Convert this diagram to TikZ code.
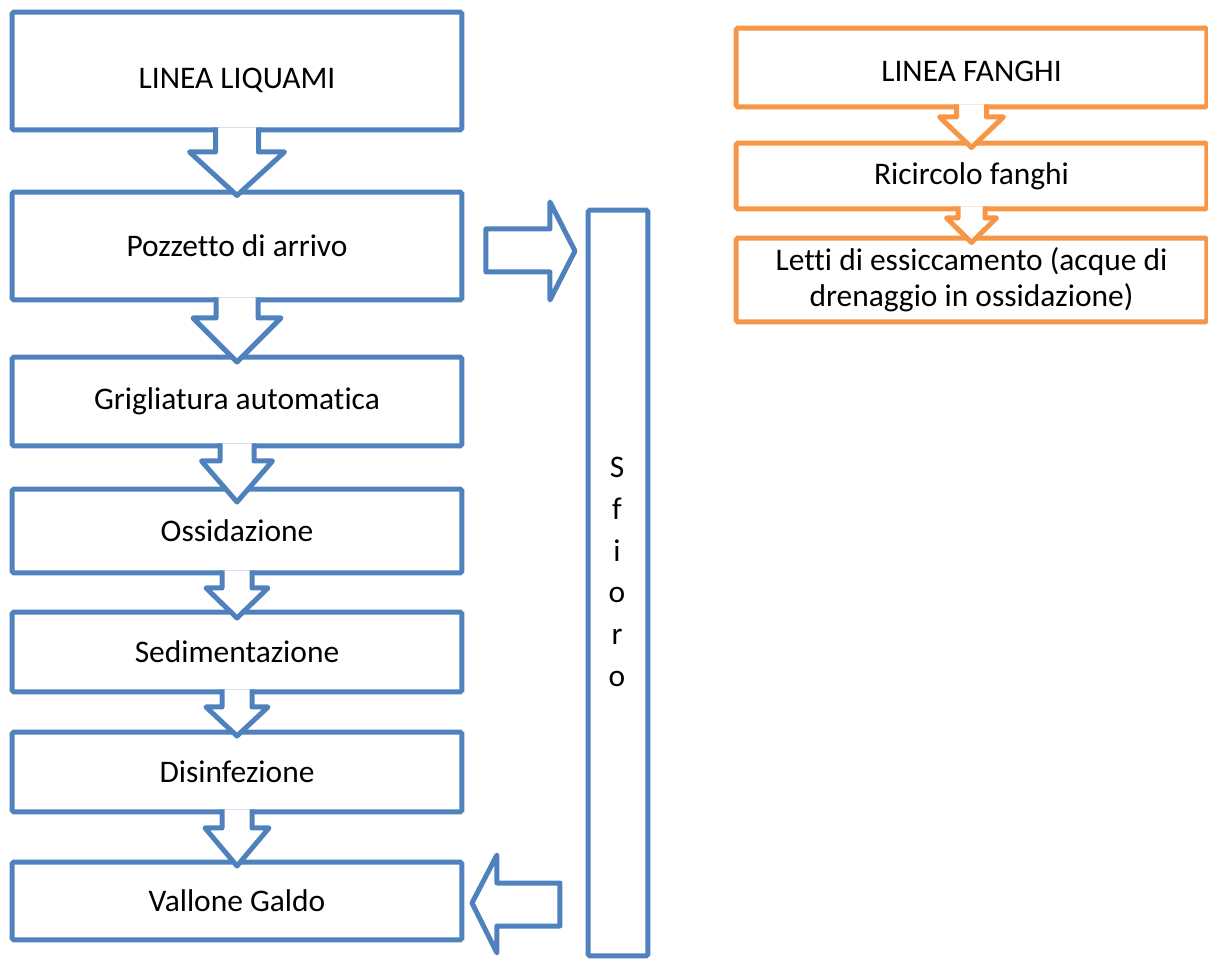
\documentclass[tikz,border=0pt]{standalone}
\usepackage{fontspec}
\setmainfont{Carlito}[Ligatures=CommonOff]
\usetikzlibrary{calc}

\definecolor{liqblue}{HTML}{4F81BD}
\definecolor{fangorange}{HTML}{F79646}

% hollow block arrow pointing down: colour, from, to, shaft, head, neck, tip
\newcommand{\blockarrow}[7]{%
  \path[draw=#1,fill=white,line width=0.1cm,line join=round]
    ($(#2.south)+(-#4,-2.5)$) -- ($(#2.south)+(-#4,#6)$) -- ($(#2.south)+(-#5,#6)$)
    -- ($(#3.north)+(0,#7)$)
    -- ($(#2.south)+(#5,#6)$) -- ($(#2.south)+(#4,#6)$) -- ($(#2.south)+(#4,-2.5)$);}

\begin{document}
\begin{tikzpicture}[x=0.02cm,y=-0.02cm]
\tikzstyle{every node}=[font=\fontsize{17.9}{20}\selectfont]
\tikzstyle{liqbox}=[rectangle,draw=liqblue,line width=0.1cm,rounded corners=1pt,inner sep=0pt,outer sep=0pt,minimum width=9cm,fill=white]
\tikzstyle{fangbox}=[liqbox,draw=fangorange,minimum width=9.42cm,align=center]

\useasboundingbox (0,0) rectangle (1208,959);

  % linea liquami
  \node[liqbox,minimum height=2.36cm,text height=0.72cm,text depth=0cm] (liq) at (237,71) {LINEA LIQUAMI};
  \node[liqbox,minimum height=2.16cm] (pozz) at (237,246) {Pozzetto di arrivo};
  \node[liqbox,minimum height=1.78cm] (grig) at (237,401.5) {Grigliatura automatica};
  \node[liqbox,minimum height=1.68cm] (ossi) at (237,531) {Ossidazione};
  \node[liqbox,minimum height=1.6cm] (sedi) at (237,652) {Sedimentazione};
  \node[liqbox,minimum height=1.6cm] (disi) at (237,772) {Disinfezione};
  \node[liqbox,minimum height=1.56cm] (valle) at (237,901) {Vallone Galdo};

  \blockarrow{liqblue}{liq}{pozz}{21.5}{47.5}{22}{3.5}
  \blockarrow{liqblue}{pozz}{grig}{21}{44}{18}{5}
  \blockarrow{liqblue}{grig}{ossi}{17}{35.5}{15}{13}
  \blockarrow{liqblue}{ossi}{sedi}{15}{31}{15}{6}
  \blockarrow{liqblue}{sedi}{disi}{15}{31}{15}{4}
  \blockarrow{liqblue}{disi}{valle}{15}{32}{16}{4}

  % sfioro
  \node[liqbox,minimum width=1.2cm,minimum height=14.92cm] (sfioro) at (618,583) {};
  \node[align=center,font=\fontsize{17.9}{23.7}\selectfont] (sfiorolabel) at ($(sfioro.center)+(-1,-11)$) {S\\f\\i\\o\\r\\o};

  \path[draw=liqblue,fill=white,line width=0.1cm,line join=round]
    ($(pozz.east)+(24,-17)$) -- ($(pozz.east)+(88,-17)$) -- ($(pozz.east)+(88,-44)$)
    -- ($(sfioro.west)!(pozz.east)!(sfioro.north west)+(-13,5)$)
    -- ($(pozz.east)+(88,54)$) -- ($(pozz.east)+(88,26)$) -- ($(pozz.east)+(24,26)$) -- cycle;
  \path[draw=liqblue,fill=white,line width=0.1cm,line join=round]
    ($(valle.east)+(10,2)$) -- ($(valle.east)+(35,-46)$) -- ($(valle.east)+(35,-18)$)
    -- ($(valle.east)+(98,-18)$) -- ($(valle.east)+(98,25)$) -- ($(valle.east)+(35,25)$)
    -- ($(valle.east)+(35,52)$) -- cycle;

  % linea fanghi
  \node[fangbox,minimum height=1.58cm,text height=0.56cm,text depth=0cm] (fanghi) at (971.5,67.5) {LINEA FANGHI};
  \node[fangbox,minimum height=1.32cm] (ricir) at (971.5,176) {Ricircolo fanghi};
  \node[fangbox,minimum height=1.68cm,font=\fontsize{17.9}{20.5}\selectfont] (letti) at (971.5,280) {Letti di essiccamento (acque di\\drenaggio in ossidazione)};

  \blockarrow{fangorange}{fanghi}{ricir}{15}{32}{10}{4.5}
  \blockarrow{fangorange}{ricir}{letti}{13.5}{25}{9}{4.5}
\end{tikzpicture}
\end{document}
